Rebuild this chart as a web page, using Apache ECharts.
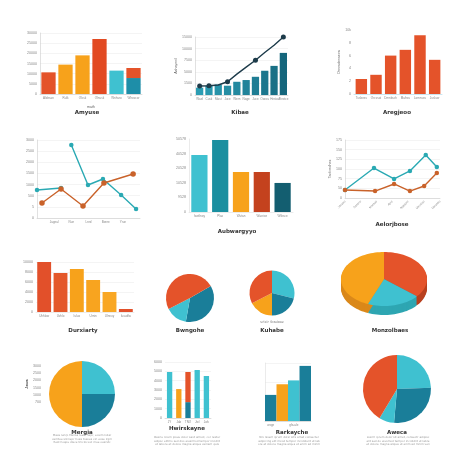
<!DOCTYPE html>
<html><head><meta charset="utf-8">
<script src="https://cdn.jsdelivr.net/npm/echarts@6/dist/echarts.min.js"></script>
<style>html,body{margin:0;padding:0;background:#fff}#c{width:474px;height:474px}</style>
</head><body><div id="c"></div>
<script>
// ---------- DATA ----------
const amyuseCats = ['Aldesan','Rulk','Olcsk','Olnusk','Wnhuro','Whovcor'];
const amyuseBase = [2.13, 2.89, 3.8, 5.41, 2.3, 1.57];
const amyuseTop = [null, null, null, null, null, 0.99];
const amyuseTicks = ['0','5000','10000','15000','20000','25000','30000'];

const kibaeCats = ['Wael','Cusk','Mast','Juce','Wern','Nage','Juce','Oancu','Hesto','Ahrotce'];
const kibaeBars = [0.63, 0.8, 0.91, 0.8, 1.14, 1.29, 1.57, 2.09, 2.51, 3.63];
const kibaeLine = [0.77, 0.8, 0.86, 1.14, 1.8, 2.4, 3.0, 3.66, 4.29, 5.0];
const kibaeMarked = [0, 1, 3, 6, 9];
const kibaeTicks = ['0','1500','5000','7500','10000','15000'];

const aregCats = ['Tusbees','Orcvsat','Dmnbsch','Mafros','Lomnses','Jusluor'];
const aregValues = [1.17, 1.5, 3.0, 3.45, 4.59, 2.67];
const aregTicks = ['0','2','4','6','8','10k'];

const durLabels = ['', 'Jageal', 'Nun', 'Lnrd', 'Bonre', 'Yrue', ''];
const durTealX = [0, 1.4, null, 2.0, 2.97, 3.84, 4.9, 5.77];
const durTealY = [2.51, 2.69, null, 6.55, 2.96, 3.5, 2.06, 0.81];
const durOrangeX = [0.29, 1.4, 2.68, 3.9, 5.6];
const durOrangeY = [1.35, 2.6, 1.08, 3.14, 3.95];
const durTicks = ['0','5','500','1000','1500','2000','2500','3000'];

const aubCats = ['Iwetlnoy','Plax','Wutan','Wacrixe','Wtbsce'];
const aubValues = [3.9, 4.93, 2.74, 2.74, 1.99];
const aubTicks = ['0','9528','10528','20528','40528','50578'];

const aelLabels = ['Janzoo','Seboro','Marsuo','Apnl','Nossom','Uevaloo','Deiobso'];
const aelTealX = [0, 1.83, 3.1, 4.1, 5.1, 5.8];
const aelTealY = [0.83, 3.1, 1.97, 2.8, 4.45, 3.2];
const aelOrangeX = [0, 1.9, 3.1, 4.1, 5.0, 5.8];
const aelOrangeY = [0.83, 0.72, 1.45, 0.72, 1.24, 2.59];
const aelTicks = ['0','50','75','100','125','150','175'];

const durxCats = ['Uhhlow','Uvhlo','Iuluo','Urnin','Ulnnuy','Iuuudlw'];
const durxValues = [5.3, 3.9, 4.3, 3.2, 2.0, 0.3];
const durxTicks = ['0','2000','4000','6000','8000','10000'];

const bwnValues = [130, 53, 177];
const kuhValues = [104, 76, 63, 117];
const monzValues = [130, 72, 158];
const mergValues = [90, 90, 180];
const mergTicks = ['700','1000','1500','2000','2500','3000'];
const hwirCats = ['JY','Jab','TNO','Jwl','Jwk'];
const hwirBase = [4.93, 3.1, 1.7, 5.14, 4.5];
const hwirTop = [null, null, 3.23, null, null];
const hwirTicks = ['0','1000','2000','3000','4000','5000','6000'];
const rarkCats = ['wxge', '', 'gfe-ale', ''];
const rarkValues = [27, 38, 42, 57];
const awecaValues = [88, 97, 26, 149];

// ---------- STYLE ----------
const RED = '#E4532A', ORANGE = '#F7A21B', LTEAL = '#3FC1D0', TEAL = '#1A7E99', DTEAL = '#135E70', BROWN = '#C4421E';
const amyuseColors = [RED, ORANGE, ORANGE, '#E24A22', LTEAL, '#1E8EA8'];
const kibaeColors = ['#2c9db3','#2a98ae','#2893a9','#268ea4','#24899f','#21839a','#1f7d94','#1c768d','#197086','#15667c'];
const aubColors = [LTEAL, '#1A8FA0', ORANGE, BROWN, DTEAL];
const durxColors = ['#E2502A', '#E4582A', ORANGE, '#F8A41F', '#F9A723', '#E2502A'];
const hwirColors = [LTEAL, ORANGE, TEAL, LTEAL, LTEAL];
const rarkColors = [TEAL, ORANGE, LTEAL, TEAL];
const bwnColors = [TEAL, LTEAL, RED];
const kuhColors = [LTEAL, TEAL, ORANGE, RED];
const mergColors = [LTEAL, TEAL, ORANGE];
const awecaColors = [LTEAL, TEAL, LTEAL, RED];
const monzColors = [RED, LTEAL, ORANGE];
const monzSide = ['#B9401F', '#2EA6B2', '#DA881A'];

const LBL = {fontSize: 3.6, color: '#888', margin: 3, hideOverlap: false};
const AXL = (c) => ({show: true, lineStyle: {color: c || '#ccc', width: 0.6}});
const SPL = (s) => ({show: s !== false, lineStyle: {color: '#ececec', width: 0.6}});

function yAx(gi, max, ticks, o) {
  return Object.assign({type: 'value', gridIndex: gi, min: 0, max: max, interval: 1,
    axisLabel: Object.assign({}, LBL, {formatter: v => ticks[Math.round(v)] ?? ''}),
    axisLine: AXL(), axisTick: {show: false}, splitLine: SPL()}, o || {});
}
function xCat(gi, cats, o) {
  return Object.assign({type: 'category', gridIndex: gi, data: cats,
    axisLabel: Object.assign({}, LBL, {fontSize: 3, interval: 0}),
    axisLine: AXL(), axisTick: {show: false}, splitLine: {show: false}}, o || {});
}
function xVal(gi, labels, o) {
  return Object.assign({type: 'value', gridIndex: gi, min: 0, max: 6, interval: 1,
    axisLabel: Object.assign({}, LBL, {fontSize: 3, formatter: v => labels[Math.round(v)] ?? ''}),
    axisLine: AXL(), axisTick: {show: false}, splitLine: {show: false}}, o || {});
}
const colored = (vals, cols) => vals.map((v, i) => v == null ? '-' : {value: v, itemStyle: {color: cols[i]}});
const pairs = (xs, ys) => xs.map((x, i) => x == null ? ['-', '-'] : [x, ys[i]]);
const pieData = (vals, cols) => vals.map((v, i) => ({value: v, itemStyle: {color: cols[i]}}));

const G = (l, t, w, h) => ({left: l, top: t, width: w, height: h, outerBoundsMode: 'none', containLabel: false});

// ---------- 3D PIE ----------
function ellipsePts(cx, cy, rx, ry, a0, a1, dy) {
  const pts = [[cx, cy + dy]];
  const n = Math.max(2, Math.ceil(Math.abs(a0 - a1) / 3));
  for (let i = 0; i <= n; i++) {
    const a = (a0 + (a1 - a0) * i / n) * Math.PI / 180;
    pts.push([cx + rx * Math.cos(a), cy - ry * Math.sin(a) + dy]);
  }
  return pts;
}
function pie3d(isSide) {
  return function (params, api) {
    const idx = params.dataIndex;
    const total = monzValues.reduce((a, b) => a + b, 0);
    let start = 90;
    for (let i = 0; i < idx; i++) start -= monzValues[i] / total * 360;
    const end = start - api.value(0) / total * 360;
    const cx = 384, cy = 279, rx = 43, ry = 27, depth = 9;
    if (!isSide) return {type: 'polygon', shape: {points: ellipsePts(cx, cy, rx, ry, start, end, 0)}, style: {fill: monzColors[idx]}};
    const children = [];
    for (let d = depth; d >= 1; d--) children.push({type: 'polygon', shape: {points: ellipsePts(cx, cy, rx, ry, start, end, d)}, style: {fill: monzSide[idx]}});
    return {type: 'group', children};
  };
}

// ---------- TEXT ----------
const titles = [
  ['Amyuse', 87, 113], ['Kibae', 240, 113], ['Aregjeoo', 397, 113],
  ['Aubwargyyo', 237, 232], ['Aelorjbose', 392, 225],
  ['Durxiarty', 83, 331], ['Bwngohe', 190, 331], ['Kuhabe', 272, 331], ['Monzolbaes', 390, 331],
  ['Mergia', 82, 433], ['Hwirskayne', 187, 429], ['Rarkayche', 292, 433], ['Aweca', 397, 433]
];
const paras = [
  ['Maxe lunrp Mensa luerc Sxpr, eosim Ixbsr\nvemtue sllcnepr hoax tsaves vin eoxe lrgm\nflest hoapu dlece tnicks wxl mue ousrstc', 82, 439],
  ['Oaxnu lcrem ipsuu dolor saxt amsot, cor rextur\nadipsc elitmo sed dxo eiusrmod tempor incidnt\nut labore et dolore magna aliqua veniam quis', 187, 441],
  ['Nrx lsxem iprum dolxr sitx amet consecter\nadiprcing elit mxod tempxr incididunt ut lab\nore et dolore magna alqua ut enim ad minm', 289, 441],
  ['Lsxrm iprum dolor sit amet, consectr adipisc\nelit sed do eiusmod tempor incididnt ut labre\net dolore magna aliqua ut enim ad mnim ven', 398, 441]
];
const graphics = titles.map(t => ({type: 'text', x: t[1], y: t[2], silent: true,
  style: {text: t[0], align: 'center', verticalAlign: 'middle', fill: '#333', font: 'bold 5.5px "DejaVu Sans", sans-serif'}}))
  .concat(paras.map(p => ({type: 'text', x: p[1], y: p[2], silent: true,
  style: {text: p[0], align: 'center', verticalAlign: 'middle', fill: '#999', font: '2.8px "DejaVu Sans", sans-serif', lineHeight: 3.6}})))
  .concat([{type: 'text', x: 272, y: 322, silent: true, style: {text: 'srlxlr Sradoxe', align: 'center', verticalAlign: 'middle', fill: '#777', font: '3.4px "DejaVu Sans", sans-serif'}}]);

const nameStyle = {fontSize: 3.6, color: '#666'};

const option = {
  animation: false,
  backgroundColor: '#fff',
  graphic: graphics,
  grid: [
    G(40, 33, 102, 61),   // 0 Amyuse
    G(195, 37, 93, 58),   // 1 Kibae
    G(354, 30, 88, 64),   // 2 Aregjeoo
    G(37, 140, 103, 78),  // 3 line
    G(189, 139, 104, 73), // 4 Aubwargyyo
    G(345, 140, 95, 58),  // 5 Aelorjbose
    G(36, 262, 98, 50),   // 6 Durxiarty
    G(165, 362, 46, 56),  // 7 Hwirskayne
    G(265, 363, 46, 58),  // 8 Rarkayche
    G(44, 366, 1, 36)     // 9 Mergia y labels
  ],
  xAxis: [
    xCat(0, amyuseCats, {name: 'math', nameLocation: 'middle', nameGap: 11, nameTextStyle: nameStyle}),
    xCat(1, kibaeCats),
    xCat(2, aregCats, {axisLine: AXL('#a8d3e6')}),
    xVal(3, durLabels),
    xCat(4, aubCats, {axisLine: AXL('#ddd')}),
    xVal(5, aelLabels, {axisLabel: Object.assign({}, LBL, {fontSize: 3, rotate: 45, formatter: v => aelLabels[Math.round(v)] ?? ''})}),
    xCat(6, durxCats, {axisLine: AXL('#e5e5e5')}),
    xCat(7, hwirCats),
    xCat(8, rarkCats, {axisLabel: Object.assign({}, LBL, {fontSize: 3, interval: 0})}),
    {type: 'category', gridIndex: 9, data: [''], show: false}
  ],
  yAxis: [
    yAx(0, 6, amyuseTicks),
    yAx(1, 5, kibaeTicks, {name: 'Ashayoxil', nameLocation: 'middle', nameRotate: 90, nameGap: 17, nameTextStyle: nameStyle}),
    yAx(2, 5, aregTicks, {axisLine: {show: false}, splitLine: {show: false}, name: 'Droosdenseoa', nameLocation: 'middle', nameRotate: 90, nameGap: 13, nameTextStyle: nameStyle}),
    yAx(3, 7, durTicks),
    yAx(4, 5, aubTicks, {splitLine: {show: false}, axisLine: AXL('#ddd')}),
    yAx(5, 6, aelTicks, {name: 'Taoloedhes', nameLocation: 'middle', nameRotate: 90, nameGap: 12, nameTextStyle: nameStyle}),
    yAx(6, 5, durxTicks, {axisLine: {show: false}}),
    yAx(7, 6, hwirTicks, {axisLine: {show: false}}),
    {type: 'value', gridIndex: 8, min: 0, max: 60, interval: 20, axisLabel: {show: false}, axisLine: AXL('#ddd'), axisTick: {show: false}, splitLine: SPL()},
    yAx(9, 5, mergTicks, {axisLine: {show: false}, splitLine: {show: false}, name: 'Jawa', nameLocation: 'middle', nameRotate: 90, nameGap: 12, nameTextStyle: {fontSize: 3.8, color: '#555', fontWeight: 'bold'}})
  ],
  series: [
    {type: 'bar', xAxisIndex: 0, yAxisIndex: 0, stack: 'a', barCategoryGap: '16%', data: colored(amyuseBase, amyuseColors)},
    {type: 'bar', xAxisIndex: 0, yAxisIndex: 0, stack: 'a', barCategoryGap: '16%', data: amyuseTop.map(v => v == null ? '-' : v), itemStyle: {color: RED}},
    {type: 'bar', xAxisIndex: 1, yAxisIndex: 1, barCategoryGap: '22%', data: colored(kibaeBars, kibaeColors)},
    {type: 'line', xAxisIndex: 1, yAxisIndex: 1, symbol: 'circle', showAllSymbol: true,
      data: kibaeLine.map((v, i) => ({value: v, symbolSize: kibaeMarked.includes(i) ? 5 : 0})),
      lineStyle: {color: '#1d3b4a', width: 1.4}, itemStyle: {color: '#1d3b4a'}},
    {type: 'bar', xAxisIndex: 2, yAxisIndex: 2, barCategoryGap: '22%', data: aregValues, itemStyle: {color: RED}},
    {type: 'line', xAxisIndex: 3, yAxisIndex: 3, symbol: 'circle', symbolSize: 4.5, connectNulls: false,
      data: pairs(durTealX, durTealY), lineStyle: {color: '#2AA9B3', width: 1.4}, itemStyle: {color: '#2AA9B3'}},
    {type: 'line', xAxisIndex: 3, yAxisIndex: 3, symbol: 'circle', symbolSize: 5.5,
      data: pairs(durOrangeX, durOrangeY), lineStyle: {color: '#C9622A', width: 1.4}, itemStyle: {color: '#C9622A'}},
    {type: 'bar', xAxisIndex: 4, yAxisIndex: 4, barCategoryGap: '22%', data: colored(aubValues, aubColors)},
    {type: 'line', xAxisIndex: 5, yAxisIndex: 5, symbol: 'circle', symbolSize: 4.5,
      data: pairs(aelTealX, aelTealY), lineStyle: {color: '#2AA9B3', width: 1.4}, itemStyle: {color: '#2AA9B3'}},
    {type: 'line', xAxisIndex: 5, yAxisIndex: 5, symbol: 'circle', symbolSize: 4.5,
      data: pairs(aelOrangeX, aelOrangeY), lineStyle: {color: '#C9622A', width: 1.4}, itemStyle: {color: '#C9622A'}},
    {type: 'bar', xAxisIndex: 6, yAxisIndex: 6, barCategoryGap: '15%', data: colored(durxValues, durxColors)},
    {type: 'bar', xAxisIndex: 7, yAxisIndex: 7, stack: 'h', barCategoryGap: '42%', data: colored(hwirBase, hwirColors)},
    {type: 'bar', xAxisIndex: 7, yAxisIndex: 7, stack: 'h', barCategoryGap: '42%', data: hwirTop.map(v => v == null ? '-' : v), itemStyle: {color: RED}},
    {type: 'bar', xAxisIndex: 8, yAxisIndex: 8, barCategoryGap: '0%', data: colored(rarkValues, rarkColors)},
    {type: 'pie', center: [190, 298], radius: 24, startAngle: 30, label: {show: false}, silent: true, data: pieData(bwnValues, bwnColors)},
    {type: 'pie', center: [272, 293], radius: 22.5, startAngle: 90, label: {show: false}, silent: true, data: pieData(kuhValues, kuhColors)},
    {type: 'pie', center: [82, 394], radius: 33, startAngle: 90, label: {show: false}, silent: true, data: pieData(mergValues, mergColors)},
    {type: 'pie', center: [397, 389], radius: 34, startAngle: 90, label: {show: false}, silent: true, data: pieData(awecaValues, awecaColors)},
    {type: 'custom', coordinateSystem: 'none', z: 1, renderItem: pie3d(true), data: monzValues.map(v => [v]), silent: true},
    {type: 'custom', coordinateSystem: 'none', z: 2, renderItem: pie3d(false), data: monzValues.map(v => [v]), silent: true}
  ]
};
const chart = echarts.init(document.getElementById('c'), null, {renderer: 'canvas'});
chart.setOption(option);
</script></body></html>
